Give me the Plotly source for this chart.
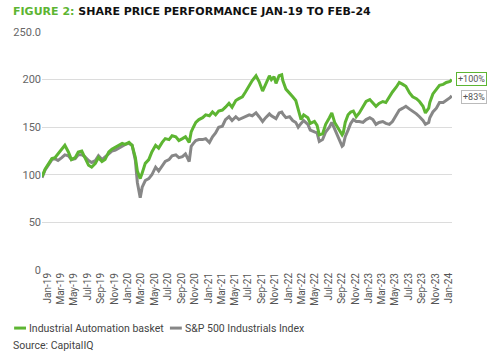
import plotly.graph_objects as go

dates = [
    "2019-01-01", "2019-01-15", "2019-02-01", "2019-02-15", "2019-03-01", "2019-03-15",
    "2019-04-01", "2019-04-15", "2019-05-01", "2019-05-15", "2019-06-01", "2019-06-15",
    "2019-07-01", "2019-07-15", "2019-08-01", "2019-08-15", "2019-09-01", "2019-09-15",
    "2019-10-01", "2019-10-15", "2019-11-01", "2019-11-15", "2019-12-01", "2019-12-15",
    "2020-01-01", "2020-01-15", "2020-02-01", "2020-02-15", "2020-03-01", "2020-03-10",
    "2020-03-23", "2020-04-01", "2020-04-15", "2020-05-01", "2020-05-15", "2020-06-01",
    "2020-06-15", "2020-07-01", "2020-07-15", "2020-08-01", "2020-08-15", "2020-09-01",
    "2020-09-15", "2020-10-01", "2020-10-15", "2020-11-01", "2020-11-10", "2020-11-20",
    "2020-12-01", "2020-12-15", "2021-01-01", "2021-01-15", "2021-02-01", "2021-02-15",
    "2021-03-01", "2021-03-15", "2021-04-01", "2021-04-15", "2021-05-01", "2021-05-15",
    "2021-06-01", "2021-06-15", "2021-07-01", "2021-07-15", "2021-08-01", "2021-08-15",
    "2021-09-01", "2021-09-15", "2021-10-01", "2021-10-15", "2021-11-01", "2021-11-10",
    "2021-11-22", "2021-12-01", "2021-12-15", "2021-12-27", "2022-01-01", "2022-01-15",
    "2022-02-01", "2022-02-15", "2022-03-01", "2022-03-12", "2022-03-25", "2022-04-06",
    "2022-04-25", "2022-05-06", "2022-05-25", "2022-06-06", "2022-06-16", "2022-07-01",
    "2022-07-15", "2022-08-01", "2022-08-12", "2022-08-25", "2022-09-06", "2022-09-28",
    "2022-10-03", "2022-10-12", "2022-10-25", "2022-11-06", "2022-11-18", "2022-12-01",
    "2022-12-15", "2023-01-01", "2023-01-15", "2023-02-01", "2023-02-15", "2023-03-01",
    "2023-03-15", "2023-04-01", "2023-04-15", "2023-05-01", "2023-05-15", "2023-06-01",
    "2023-06-15", "2023-07-01", "2023-07-15", "2023-08-01", "2023-08-15", "2023-09-01",
    "2023-09-15", "2023-10-01", "2023-10-12", "2023-10-27", "2023-11-01", "2023-11-15",
    "2023-12-01", "2023-12-15", "2024-01-01", "2024-01-15", "2024-02-01", "2024-02-09",
]

automation_basket = [
    98, 106, 112, 117, 118, 122,
    126, 131, 124, 116, 118, 124,
    125, 118, 110, 108, 112, 118,
    114, 116, 124, 127, 129, 131,
    133, 132, 134, 131, 118, 104,
    96, 102, 112, 116, 124, 131,
    128, 134, 138, 137, 141, 140,
    136, 138, 140, 134, 145, 150,
    155, 158, 160, 163, 162, 166,
    163, 167, 168, 171, 175, 171,
    178, 180, 182, 187, 194, 199,
    204, 198, 188, 196, 204, 200,
    203, 196, 204, 205, 199, 190,
    186, 182, 178, 168, 158, 163,
    160, 154, 156, 152, 142, 143,
    153, 160, 165, 155, 150, 142,
    144, 155, 163, 166, 167, 161,
    165, 172, 177, 179, 176, 172,
    175, 177, 176, 182, 187, 192,
    197, 195, 193, 186, 182, 180,
    177, 172, 165, 170, 176, 185,
    190, 194, 195, 197, 198, 200,
]

sp500_industrials = [
    97, 105, 111, 116, 117, 115,
    118, 121, 120, 116, 117, 121,
    121, 119, 115, 113, 115, 120,
    116, 119, 123, 125, 126, 128,
    130, 132, 133, 131, 115, 92,
    76, 87, 94, 96, 100, 108,
    104, 109, 114, 116, 120, 121,
    118, 119, 122, 114, 130, 133,
    136, 137, 137, 138, 134, 140,
    144, 150, 151, 158, 161, 157,
    161, 158, 160, 161, 163, 162,
    165, 161, 156, 160, 164, 162,
    160, 159, 165, 166, 164, 160,
    161, 157, 155, 150, 154, 157,
    153, 147, 145, 144, 135, 137,
    145, 150, 155, 148, 141, 130,
    131, 140, 147, 154, 158, 156,
    156, 155, 158, 160, 158, 153,
    155, 156, 154, 153, 156, 163,
    168, 170, 172, 169, 167, 164,
    161, 157, 153, 155, 160, 166,
    170, 176, 176, 178, 181, 183,
]

tick_labels = [
    "Jan-19", "Mar-19", "May-19", "Jul-19", "Sep-19", "Nov-19",
    "Jan-20", "Mar-20", "May-20", "Jul-20", "Sep-20", "Nov-20",
    "Jan-21", "Mar-21", "May-21", "Jul-21", "Sep-21", "Nov-21",
    "Jan-22", "Mar-22", "May-22", "Jul-22", "Sep-22", "Nov-22",
    "Jan-23", "Mar-23", "May-23", "Jul-23", "Sep-23", "Nov-23",
    "Jan-24",
]
tick_dates = [
    f"20{lab[-2:]}-{['Jan','Mar','May','Jul','Sep','Nov'].index(lab[:3]) * 2 + 1:02d}-27"
    for lab in tick_labels
]

y_ticks = [0, 50, 100, 150, 200, 250]
y_tick_text = ["0", "50", "100", "150", "200", "250.0"]

series_names = ["Industrial Automation basket", "S&P 500 Industrials Index"]
GREEN = "#5db532"
GRAY = "#878787"

fig = go.Figure()
fig.add_trace(go.Scatter(x=dates, y=sp500_industrials, mode="lines", name=series_names[1],
                         line=dict(color=GRAY, width=3), showlegend=False))
fig.add_trace(go.Scatter(x=dates, y=automation_basket, mode="lines", name=series_names[0],
                         line=dict(color=GREEN, width=3), showlegend=False))

fig.update_layout(
    width=502, height=359,
    margin=dict(l=42, r=50, t=32, b=89),
    paper_bgcolor="white", plot_bgcolor="white",
    font=dict(family="Roboto, Arial, sans-serif", color="#555555", size=11),
    showlegend=False,
    xaxis=dict(
        type="date", range=["2019-01-01", "2024-02-10"],
        tickvals=tick_dates, ticktext=tick_labels, tickangle=-90,
        tickfont=dict(size=10, color="#555555"), showgrid=False, zeroline=False,
        showline=False, ticks="",
    ),
    yaxis=dict(
        range=[0, 250], tickvals=y_ticks, ticktext=y_tick_text,
        showgrid=True, gridcolor="#dcdcdc", gridwidth=1, zeroline=False,
        tickfont=dict(size=11, color="#666666"), ticks="", ticklen=4,
    ),
)

# Title
fig.add_annotation(
    xref="paper", yref="paper", x=-0.075, y=1.085, xanchor="left", yanchor="middle",
    text=f"<b><span style='color:{GREEN}'>FIGURE 2:</span> SHARE PRICE PERFORMANCE JAN-19 TO FEB-24</b>",
    showarrow=False, font=dict(family="DejaVu Sans, sans-serif", size=11, color="#111111"),
)

# End-value labels
fig.add_annotation(
    xref="paper", yref="y", x=1.085, y=201, xanchor="right", yanchor="middle",
    text=f"+{automation_basket[-1] - 100}%", showarrow=False,
    bordercolor=GREEN, borderwidth=1, borderpad=1,
    font=dict(size=9, color="#555555"),
)
fig.add_annotation(
    xref="paper", yref="y", x=1.085, y=182, xanchor="right", yanchor="middle",
    text=f"+{sp500_industrials[-1] - 100}%", showarrow=False,
    bordercolor="#bbbbbb", borderwidth=1, borderpad=1,
    font=dict(size=9, color="#555555"),
)

# Legend (manual, short line keys)
legend_y = -0.244
legend_items = [(series_names[0], GREEN, -0.068), (series_names[1], GRAY, 0.312)]
for name, color, x0 in legend_items:
    fig.add_shape(type="line", xref="paper", yref="paper",
                  x0=x0, x1=x0 + 0.029, y0=legend_y, y1=legend_y,
                  line=dict(color=color, width=3))
    fig.add_annotation(
        xref="paper", yref="paper", x=x0 + 0.031, y=legend_y, xanchor="left", yanchor="middle",
        text=name, showarrow=False, font=dict(size=10.5, color="#444444"),
    )

# Source
fig.add_annotation(
    xref="paper", yref="paper", x=-0.075, y=-0.319, xanchor="left", yanchor="middle",
    text="Source: CapitalIQ", showarrow=False,
    font=dict(size=10.5, color="#444444"),
)

fig.write_html("out.html", config={"displayModeBar": False},
               post_script="document.body.style.margin='0px';")
